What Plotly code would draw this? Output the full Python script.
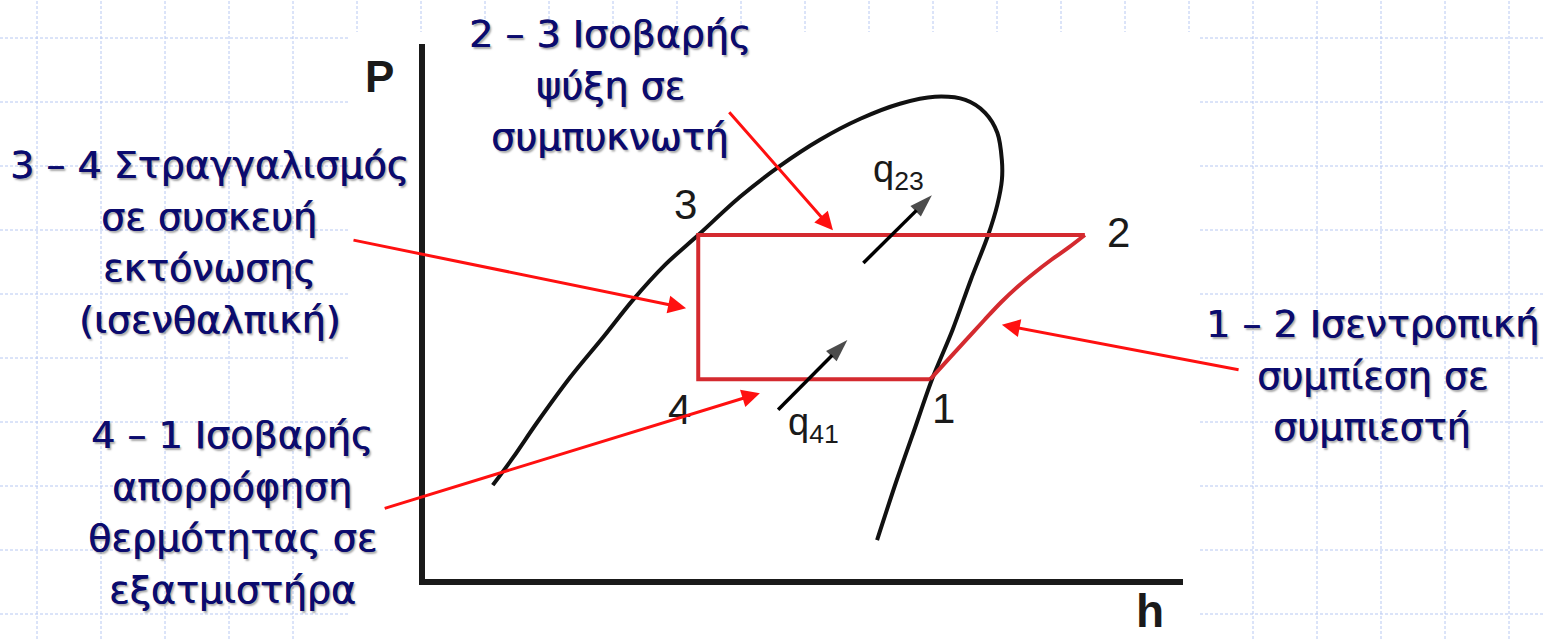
import plotly.graph_objects as go

# ---------------- data (schematic P-h diagram, arbitrary units 0..100) ----------------
axis_h = [0, 0, 100]
axis_p = [100, 0, 0]

# saturation dome (liquid line -> critical point -> vapour line)
dome_h = [9.3, 12.0, 15.1, 19.5, 23.8, 27.7, 31.9, 36.3, 41.8, 47.0, 52.3, 57.6, 62.8, 67.4,
          71.4, 74.0, 75.6, 76.2, 76.2, 75.6, 74.4, 72.1, 69.7, 67.0, 64.7, 62.4, 59.8]
dome_p = [18.0, 23.2, 29.6, 38.1, 45.5, 52.4, 58.9, 64.5, 71.6, 77.3, 82.2, 86.1, 88.9, 90.2,
          89.6, 87.2, 83.5, 78.4, 74.7, 70.1, 64.5, 56.1, 46.8, 37.6, 28.3, 19.0, 7.8]

# cycle state points 1..4
states = ["1", "2", "3", "4"]
state_h = [66.8, 87.1, 36.3, 36.3]
state_p = [37.7, 64.5, 64.5, 37.7]
state_label_h = [68.5, 91.5, 34.6, 33.8]
state_label_p = [32.3, 64.9, 70.1, 32.0]

# isentropic compression 1 -> 2
comp_h = [66.8, 69.1, 71.5, 73.9, 76.1, 78.2, 80.4, 82.7, 84.9, 87.1]
comp_p = [37.7, 41.3, 45.0, 48.7, 52.0, 54.8, 57.4, 59.9, 62.1, 64.5]

# heat flow arrows
q_labels = ["q<sub>23</sub>", "q<sub>41</sub>"]
q_tail_h = [58.0, 46.8]
q_tail_p = [59.3, 32.0]
q_head_h = [67.0, 55.9]
q_head_p = [71.9, 45.0]
q_label_h = [62.6, 51.5]
q_label_p = [76.2, 29.2]

# callouts (text lines + arrow tail/head in diagram units)
callout_lines = [
    ["2 – 3 Ισοβαρής", "ψύξη σε", "συμπυκνωτή"],
    ["3 – 4 Στραγγαλισμός", "σε συσκευή", "εκτόνωσης", "(ισενθαλπική)"],
    ["4 – 1 Ισοβαρής", "απορρόφηση", "θερμότητας σε", "εξατμιστήρα"],
    ["1 – 2 Ισεντροπική", "συμπίεση σε", "συμπιεστή"],
]
callout_tail_h = [40.2, -9.2, -5.1, 107.5]
callout_tail_p = [87.6, 63.6, 13.6, 39.4]
callout_head_h = [54.0, 34.7, 44.4, 76.2]
callout_head_p = [65.4, 50.9, 35.1, 47.8]

# ---------------- layout constants ----------------
W, H = 1544, 639
X0_PX, X100_PX = 422, 1183
Y0_PX, Y100_PX = 582, 44
sx = (X100_PX - X0_PX) / 100.0
sy = (Y0_PX - Y100_PX) / 100.0
x_range = [-X0_PX / sx, (W - X0_PX) / sx]
y_range = [(Y0_PX - H) / sy, Y0_PX / sy]

# callout text placement (pixel centre x, first line centre y), line pitch
callout_pos = [(610, 34), (209, 165), (232, 435), (1372, 324)]
LINE_PITCH = 51.5

TEXT_BLUE = "#0b0b6e"
RED = "#ff1010"
CYCLE_RED = "#d42a2f"
INK = "#111111"


def px(x):
    return x / W


def py(y):
    return 1 - y / H


fig = go.Figure()

# diagram axes
fig.add_trace(go.Scatter(x=axis_h, y=axis_p, mode="lines",
                         line=dict(color="#1a1a1a", width=6), hoverinfo="skip"))
# saturation dome
fig.add_trace(go.Scatter(x=dome_h, y=dome_p, mode="lines",
                         line=dict(color=INK, width=4, shape="spline", smoothing=0.9),
                         hoverinfo="skip"))
# refrigeration cycle: 2-3-4-1 straight segments, 1-2 isentrope
fig.add_trace(go.Scatter(x=[state_h[1], state_h[2], state_h[3], state_h[0]],
                         y=[state_p[1], state_p[2], state_p[3], state_p[0]],
                         mode="lines", line=dict(color=CYCLE_RED, width=4), hoverinfo="skip"))
fig.add_trace(go.Scatter(x=comp_h, y=comp_p, mode="lines",
                         line=dict(color=CYCLE_RED, width=4, shape="spline", smoothing=1.0),
                         hoverinfo="skip"))
# q arrows
for i in range(len(q_labels)):
    fig.add_trace(go.Scatter(
        x=[q_tail_h[i], q_head_h[i]], y=[q_tail_p[i], q_head_p[i]],
        mode="lines+markers",
        line=dict(color="#000000", width=3.5),
        marker=dict(symbol="arrow", size=[0, 24], angleref="previous",
                    color="#000000", line=dict(width=0)),
        hoverinfo="skip"))

annotations = []
# state labels
for i, s in enumerate(states):
    annotations.append(dict(x=state_label_h[i], y=state_label_p[i], xref="x", yref="y",
                            text=s, showarrow=False, xanchor="center", yanchor="middle",
                            font=dict(family="Liberation Sans, Arial", size=42, color="#1a1a1a")))
# q labels
for i, s in enumerate(q_labels):
    annotations.append(dict(x=q_label_h[i], y=q_label_p[i], xref="x", yref="y",
                            text=s, showarrow=False, xanchor="center", yanchor="middle",
                            font=dict(family="Liberation Sans, Arial", size=38, color="#1a1a1a")))
# axis titles
annotations.append(dict(x=px(379), y=py(77), xref="paper", yref="paper", text="<b>P</b>",
                        showarrow=False, xanchor="center", yanchor="middle",
                        font=dict(family="Liberation Sans, Arial", size=44, color="#1a1a1a")))
annotations.append(dict(x=px(1150), y=0, xref="paper", yref="paper", text="<b>h</b>",
                        showarrow=False, xanchor="center", yanchor="bottom",
                        font=dict(family="Liberation Sans, Arial", size=46, color="#1a1a1a")))
# callout texts
for (cx, cy), lines in zip(callout_pos, callout_lines):
    for j, line in enumerate(lines):
        annotations.append(dict(x=px(cx), y=py(cy + j * LINE_PITCH), xref="paper", yref="paper",
                                text=line, showarrow=False, xanchor="center", yanchor="middle",
                                font=dict(family="DejaVu Sans", size=38, color=TEXT_BLUE,
                                          shadow="0.6px 0 0 %s, 2px 2px 2px rgba(0,0,0,0.35)" % TEXT_BLUE)))
# callout arrows
for i in range(len(callout_lines)):
    annotations.append(dict(x=callout_head_h[i], y=callout_head_p[i], xref="x", yref="y",
                            ax=callout_tail_h[i], ay=callout_tail_p[i], axref="x", ayref="y",
                            text="", showarrow=True, arrowhead=2, arrowsize=1.2,
                            arrowwidth=3, arrowcolor=RED, standoff=0))

# background grid + white picture area
shapes = []
for k in range(24):
    xg = 37 + 64 * k
    shapes.append(dict(type="line", xref="paper", yref="paper", x0=px(xg), x1=px(xg),
                       y0=0, y1=1, layer="below",
                       line=dict(color="#b7c8f2", width=1, dash="3px,2px")))
for k in range(10):
    yg = 38 + 64 * k
    shapes.append(dict(type="line", xref="paper", yref="paper", x0=0, x1=1,
                       y0=py(yg), y1=py(yg), layer="below",
                       line=dict(color="#b7c8f2", width=1, dash="3px,2px")))
shapes.append(dict(type="rect", xref="paper", yref="paper", x0=px(350), x1=px(1200),
                   y0=0, y1=py(32), layer="below", fillcolor="white", line=dict(width=0)))

fig.update_layout(
    width=W, height=H, autosize=False,
    margin=dict(l=0, r=0, t=0, b=0, pad=0),
    paper_bgcolor="white", plot_bgcolor="rgba(0,0,0,0)",
    showlegend=False,
    xaxis=dict(range=x_range, visible=False, fixedrange=True),
    yaxis=dict(range=y_range, visible=False, fixedrange=True),
    annotations=annotations,
    shapes=shapes,
)

fig.write_html("out.html", config={"displayModeBar": False, "staticPlot": True},
               post_script="document.body.style.margin='0';document.body.style.overflow='hidden';")
